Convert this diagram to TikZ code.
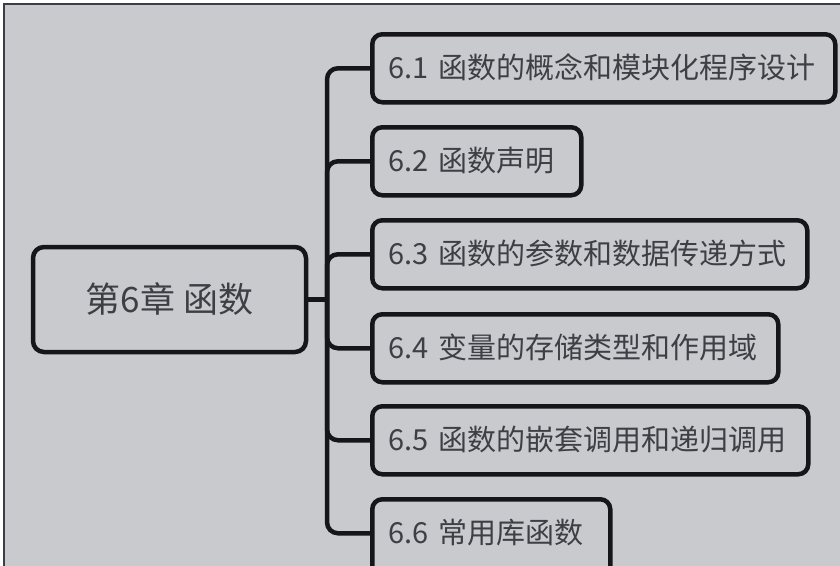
\documentclass[tikz,border=0pt]{standalone}
\usepackage{fontspec}
\setmainfont{Noto Sans CJK SC}
\usetikzlibrary{positioning}
\definecolor{paper}{RGB}{201,202,206}
\definecolor{frameline}{RGB}{58,62,74}
\definecolor{ink}{RGB}{22,22,26}
\definecolor{label}{RGB}{62,62,68}
\tikzset{
  chapter/.style={draw=ink,line width=4.5pt,rounded corners=11pt,fill=paper,
    minimum width=273pt,minimum height=105pt,text=label,
    font=\fontsize{35}{40}\selectfont},
  topic/.style={draw=ink,line width=4.5pt,rounded corners=10pt,anchor=north west,
    align=left,inner xsep=16pt,inner ysep=19.5pt,text height=25pt,text depth=4pt,
    text width=#1,text=label,font=\fontsize{29}{33}\selectfont},
  link/.style={draw=ink,line width=4.5pt,rounded corners=11pt},
}

\begin{document}
\begin{tikzpicture}[x=1pt,y={(0pt,-1pt)}]
  \useasboundingbox (0,0) rectangle (840,565);
  \clip (0,0) rectangle (840,565);
  \fill[white] (0,0) rectangle (840,565);
  \filldraw[fill=paper,draw=frameline,line width=1.2pt] (4,4) rectangle (860,590);

  \node[chapter] (ch6) at (169.5,299.5) {第6章 函数};

  \node[topic=431pt] (s1) at (370,32) {6.1 函数的概念和模块化程序设计};
  \node[topic=177pt] (s2) at (370,125) {6.2 函数声明};
  \node[topic=403pt] (s3) at (370,218) {6.3 函数的参数和数据传递方式};
  \node[topic=374pt] (s4) at (370,312) {6.4 变量的存储类型和作用域};
  \node[topic=404pt] (s5) at (370,404) {6.5 函数的嵌套调用和递归调用};
  % last box runs off the bottom edge
  \node[topic=206pt,text depth=18pt] (s6) at (370,497) {6.6 常用库函数};

  \coordinate (fork) at (327,299.5);
  \draw[link] (ch6.east) -- (fork);
  \foreach \s/\dy in {s1/0,s2/0,s3/0,s4/0,s5/0,s6/7}
    \draw[link] (fork) |- ([yshift=\dy pt]\s.west);
\end{tikzpicture}
\end{document}
